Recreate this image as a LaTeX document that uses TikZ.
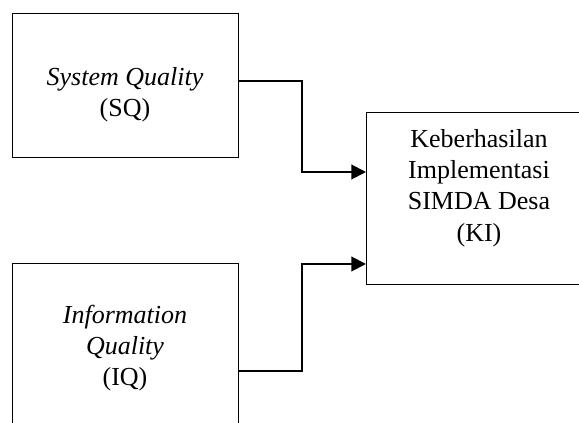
\documentclass[tikz,border=0pt]{standalone}
\usepackage{fontspec}
\setmainfont{Liberation Serif}
\usetikzlibrary{arrows.meta}
\tikzset{
  box/.style={draw, line width=0.75pt, rectangle, inner sep=0pt, outer sep=0pt, minimum width=169.5pt},
  txt/.style={align=center, inner sep=0pt, font=\fontsize{19.5pt}{23.5pt}\selectfont},
  conn/.style={line width=1.5pt, -{Triangle[length=11pt,width=11pt]}}
}
\begin{document}
\begin{tikzpicture}[x=0.75pt, y=-0.75pt]
			\useasboundingbox (0,0) rectangle (579,423);
			\clip (0,0) rectangle (579,423);
			% boxes
			\node[box, minimum height=108pt] (sq) at (125,86) {}; % system quality
			\node[box, minimum height=126pt] (iq) at (125,348) {}; % information quality
			\node[box, minimum height=129pt] (ki) at (479,199) {}; % keberhasilan
			
			% TEXTS
			\node[txt] (sqt) at (125,95) {\textit{System Quality}\\(SQ)};
			\node[txt] (iqt) at (125,348) {\textit{Information}\\\textit{Quality}\\(IQ)};
			\node[txt] (kit) at (479,188) {Keberhasilan\\Implementasi\\SIMDA Desa\\(KI)};
			
			% corners
			\coordinate (j1) at (302,81);
			\coordinate (j2) at (302,172);
			\coordinate (k1) at (302,371);
			\coordinate (k2) at (302,264);
			
			% DRAW ARROWS
			\draw[conn] (sq.east |- j1) -- (j1) -- (j2) -- (ki.west |- j2);
			\draw[conn] (iq.east |- k1) -- (k1) -- (k2) -- (ki.west |- k2);
		\end{tikzpicture}
\end{document}
